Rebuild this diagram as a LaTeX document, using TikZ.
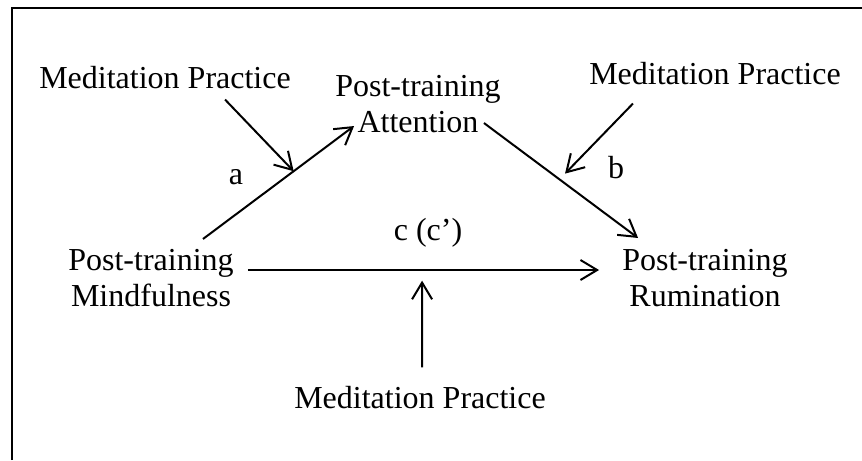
\documentclass[tikz,border=0pt]{standalone}
\usepackage{fontspec}
\setmainfont{Liberation Serif}
\usepackage{tikz}
\usetikzlibrary{arrows.meta}

\tikzset{
  txt/.style={inner sep=0pt, align=center, font=\fontsize{24}{27}\selectfont},
  arr/.style={line width=1.5pt, -{Straight Barb[length=12.5pt,width=15pt,line width=1.5pt]}},
}

\begin{document}
\begin{tikzpicture}[x=0.75pt,y=0.75pt,yscale=-1,xscale=1]
\useasboundingbox (0,0) rectangle (862,460);

% frame, only left and top edge show
\draw [line width=1.5pt] (12,460) -- (12,8) -- (862,8);

% variables
\node [txt] (mind) at (151,278) {Post-training\\Mindfulness};
\node [txt] (att)  at (418,104) {Post-training\\Attention};
\node [txt] (rum)  at (705,278) {Post-training\\Rumination};

% moderators
\node [txt] (medl) at (165,78)  {Meditation Practice};
\node [txt] (medr) at (715,74)  {Meditation Practice};
\node [txt] (medb) at (420,398) {Meditation Practice};

% path labels
\node [txt] (la) at (236,177) {a};
\node [txt] (lb) at (616,168) {b};
\node [txt] (lc) at (428,233) {c (c’)};

% paths
\draw [arr] ([shift={(52,-10)}]mind.north) -- coordinate[pos=0.6] (ma) ([shift={(19,-7)}]att.south west);
\draw [arr] ([shift={(-17,-10)}]att.south east) -- coordinate[pos=0.49] (mb) ([shift={(16,-11)}]rum.north west);
\draw [arr] ([shift={(14,-8)}]mind.east) -- coordinate[pos=0.496] (mc) ([shift={(-23,-8)}]rum.west);

% moderation arrows
\draw [arr] ([shift={(60,10)}]medl.south) -- (ma);
\draw [arr, shorten >=6] ([shift={(-82,18)}]medr.south) -- (mb);
\draw [arr, shorten >=8] ([shift={(2,-19)}]medb.north) -- (mc);

\end{tikzpicture}
\end{document}
